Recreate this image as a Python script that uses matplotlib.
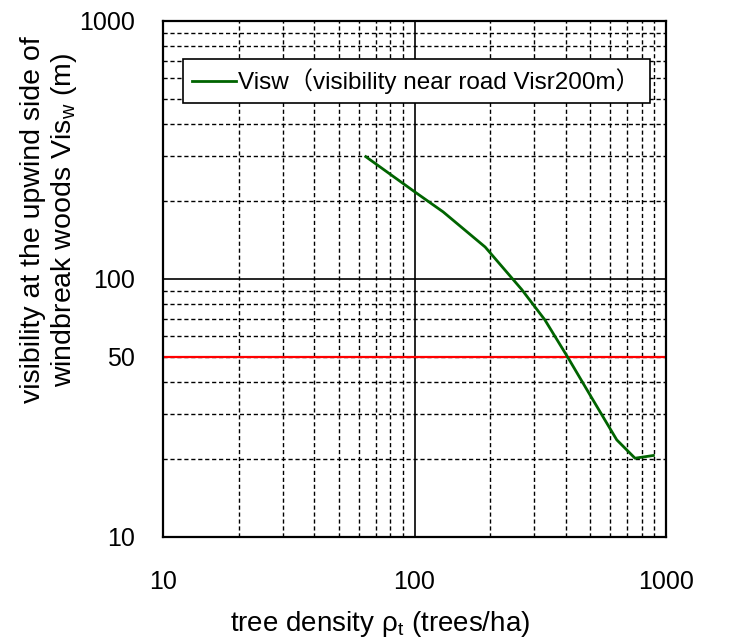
import matplotlib
matplotlib.use("Agg")
import matplotlib.pyplot as plt
from matplotlib.ticker import FixedLocator, NullFormatter, FixedFormatter

plt.rcParams['font.family'] = ['Liberation Sans', 'Noto Sans CJK JP', 'DejaVu Sans']
plt.rcParams['mathtext.fontset'] = 'custom'
plt.rcParams['mathtext.rm'] = 'Liberation Sans'
plt.rcParams['mathtext.it'] = 'Liberation Sans'

density = [64, 100, 130, 191, 267, 330, 409, 499, 637, 753, 891]
visw = [298, 218, 182, 133, 91, 69.4, 49.3, 35.5, 23.8, 20.2, 20.7]
threshold = 50
legend_label = "Visw（visibility near road Visr200m）"
xticks = [10, 100, 1000]
yticks = [10, 50, 100, 1000]

fig = plt.figure(figsize=(7.29, 6.4), dpi=100)
ax = fig.add_axes([163/729, 1-537/640, 503/729, 516/640])
ax.set_xscale('log')
ax.set_yscale('log')
ax.set_xlim(10, 1000)
ax.set_ylim(10, 1000)

minors = [k * d for d in (10, 100) for k in range(2, 10)]
ax.xaxis.set_major_locator(FixedLocator(xticks))
ax.xaxis.set_major_formatter(FixedFormatter([str(t) for t in xticks]))
ax.xaxis.set_minor_locator(FixedLocator(minors))
ax.xaxis.set_minor_formatter(NullFormatter())
ax.yaxis.set_major_locator(FixedLocator(yticks))
ax.yaxis.set_major_formatter(FixedFormatter([str(t) for t in yticks]))
ax.yaxis.set_minor_locator(FixedLocator([m for m in minors if m != 50]))
ax.yaxis.set_minor_formatter(NullFormatter())

ax.tick_params(which='both', length=0, labelsize=18)
ax.tick_params(axis='x', pad=24)
ax.tick_params(axis='y', pad=20)

for m in minors:
    ax.axvline(m, color='black', lw=1.0, ls=(0, (3, 2)), zorder=1)
    ax.axhline(m, color='black', lw=1.0, ls=(0, (3, 2)), zorder=1)
ax.axvline(100, color='black', lw=1.2, zorder=1)
ax.axhline(100, color='black', lw=1.2, zorder=1)
ax.axhline(threshold, color='#ff0000', lw=1.6, zorder=2)

ax.plot(density, visw, color='#006400', lw=2.0, label=legend_label, zorder=3)

for s in ax.spines.values():
    s.set_linewidth(1.6)

leg = ax.legend(loc='upper left', bbox_to_anchor=((183-163)/503, (537-59)/516),
                fontsize=17.5, frameon=True, fancybox=False, framealpha=1,
                edgecolor='black', handlelength=1.8, handletextpad=0.1,
                borderpad=0.38, borderaxespad=0)
leg.get_frame().set_linewidth(1.2)

ax.set_xlabel("tree density ρ$_{\\mathregular{t}}$ (trees/ha)", fontsize=20)
ax.xaxis.set_label_coords((380-163)/503, -(609-537)/516)
ax.set_ylabel("visibility at the upwind side of\nwindbreak woods Vis$_{\\mathregular{w}}$ (m)",
              fontsize=20.5, linespacing=1.15)
ax.yaxis.set_label_coords(-(163-79)/503, (537-220)/516)

fig.savefig("out.png", dpi=100)
